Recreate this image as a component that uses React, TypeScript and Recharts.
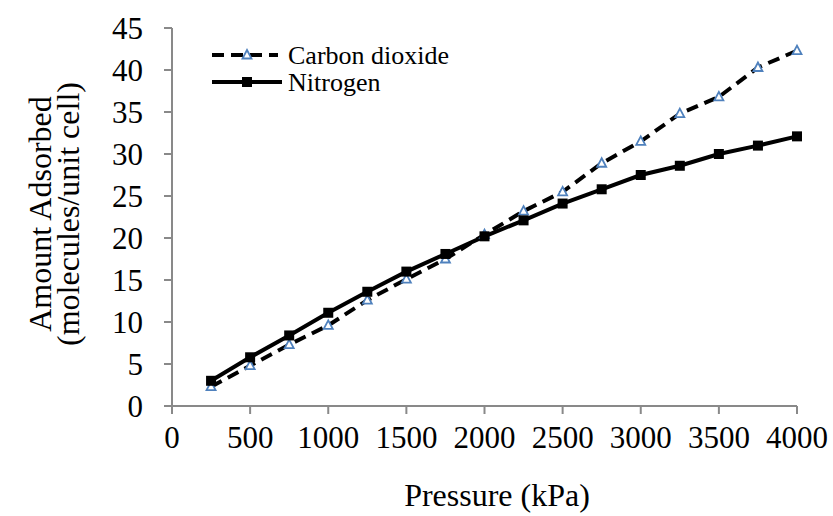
import { LineChart, Line, XAxis, YAxis } from 'recharts'

// Adsorption isotherms: amount adsorbed vs. pressure
const pressure = [250, 500, 750, 1000, 1250, 1500, 1750, 2000, 2250, 2500, 2750, 3000, 3250, 3500, 3750, 4000]
const carbonDioxide = [2.3, 4.8, 7.3, 9.6, 12.6, 15.1, 17.5, 20.4, 23.2, 25.5, 28.9, 31.5, 34.8, 36.8, 40.3, 42.3]
const nitrogen = [3.0, 5.8, 8.4, 11.1, 13.6, 16.0, 18.1, 20.2, 22.1, 24.1, 25.8, 27.5, 28.6, 30.0, 31.0, 32.1]

const xTicks = [0, 500, 1000, 1500, 2000, 2500, 3000, 3500, 4000]
const yTicks = [0, 5, 10, 15, 20, 25, 30, 35, 40, 45]

const data = pressure.map((p, i) => ({
    pressure: p,
    co2: carbonDioxide[i],
    n2: nitrogen[i],
}))

const FONT = 'Liberation Serif'
const AXIS = '#898989'
const BLUE = '#4f81bd'

const TriangleDot = ({ cx, cy }: any) => {
    if (cx == null || cy == null) return null
    return (
        <polygon
            points={`${cx},${cy - 5} ${cx + 4.5},${cy + 3.5} ${cx - 4.5},${cy + 3.5}`}
            fill="#fff"
            stroke={BLUE}
            strokeWidth={1.8}
        />
    )
}

const SquareDot = ({ cx, cy }: any) => {
    if (cx == null || cy == null) return null
    return <rect x={cx - 5} y={cy - 5} width={10} height={10} fill="#000" />
}

// legend sits inside the plot, top-left
const ChartLegend = () => (
    <svg
        width={280}
        height={60}
        style={{ position: 'absolute', left: 205, top: 40, overflow: 'visible' }}
    >
        <line x1={7} y1={15} x2={73} y2={15} stroke="#000" strokeWidth={4} strokeDasharray="12 7" />
        <TriangleDot cx={42} cy={15} />
        <text x={83} y={15} dy="0.35em" fontFamily={FONT} fontSize={26} fill="#000">
            Carbon dioxide
        </text>
        <line x1={7} y1={42} x2={77} y2={42} stroke="#000" strokeWidth={4} />
        <SquareDot cx={42} cy={42} />
        <text x={83} y={42} dy="0.35em" fontFamily={FONT} fontSize={26} fill="#000">
            Nitrogen
        </text>
    </svg>
)

export default function App() {
    return (
        <div style={{ position: 'absolute', left: 0, top: 0, width: 833, height: 516, background: '#fff' }}>
            <LineChart
                width={833}
                height={516}
                data={data}
                margin={{ top: 28, right: 36, bottom: 0, left: 0 }}
            >
                <XAxis
                    dataKey="pressure"
                    type="number"
                    domain={[0, 4000]}
                    ticks={xTicks}
                    height={110}
                    tickSize={8}
                    tickMargin={12}
                    axisLine={{ stroke: AXIS, strokeWidth: 2 }}
                    tickLine={{ stroke: AXIS, strokeWidth: 2 }}
                    tick={{ fill: '#000', fontSize: 31, fontFamily: FONT }}
                    interval={0}
                    label={{
                        content: () => (
                            <text x={497} y={506} textAnchor="middle" fontFamily={FONT} fontSize={32} fill="#000">
                                Pressure (kPa)
                            </text>
                        ),
                    }}
                />
                <YAxis
                    type="number"
                    domain={[0, 45]}
                    ticks={yTicks}
                    width={172}
                    tickSize={8}
                    tickMargin={21}
                    axisLine={{ stroke: AXIS, strokeWidth: 2 }}
                    tickLine={{ stroke: AXIS, strokeWidth: 2 }}
                    tick={{ fill: '#000', fontSize: 31, fontFamily: FONT }}
                    interval={0}
                    label={{
                        content: () => (
                            <g transform="translate(0,214) rotate(-90)" fontFamily={FONT} fontSize={32} fill="#000">
                                <text x={0} y={51} textAnchor="middle">Amount Adsorbed</text>
                                <text x={0} y={79} textAnchor="middle">(molecules/unit cell)</text>
                            </g>
                        ),
                    }}
                />
                <Line
                    dataKey="co2"
                    name="Carbon dioxide"
                    stroke="#000"
                    strokeWidth={4}
                    strokeDasharray="12 7"
                    dot={<TriangleDot />}
                    activeDot={false}
                    isAnimationActive={false}
                />
                <Line
                    dataKey="n2"
                    name="Nitrogen"
                    stroke="#000"
                    strokeWidth={4}
                    dot={<SquareDot />}
                    activeDot={false}
                    isAnimationActive={false}
                />
            </LineChart>
            <ChartLegend />
        </div>
    )
}
